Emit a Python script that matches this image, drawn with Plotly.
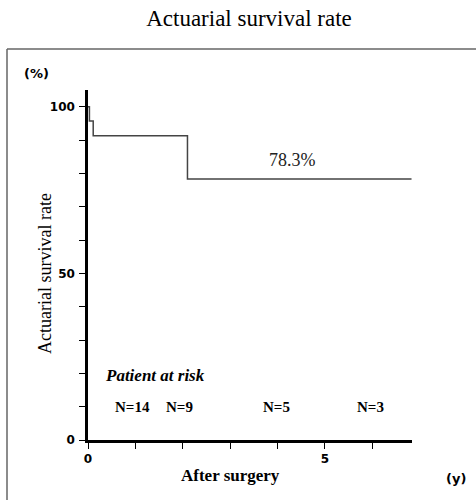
import plotly.graph_objects as go

# Data
step_years = [0, 0.03, 0.11, 2.1, 6.83]
survival_pct = [100, 95.7, 91.3, 78.3, 78.3]
final_label = "78.3%"
risk_years = [0.93, 1.94, 3.97, 5.97]
risk_counts = [14, 9, 5, 3]
y_tickvals = list(range(0, 101, 10))
y_ticktext = ["0", "", "", "", "", "50", "", "", "", "", "100"]
x_tickvals = [0, 1, 2, 3, 4, 5, 6]
x_ticktext = ["0", "", "", "", "", "5", ""]

W, H = 476, 500
L, R, T, B = 88, 64, 90, 60
pw, ph = W - L - R, H - T - B

def px(x):
    return (x - L) / pw

def py(y):
    return 1 - (y - T) / ph

fig = go.Figure()
fig.add_trace(go.Scatter(x=step_years, y=survival_pct, mode="lines",
                         line=dict(shape="hv", color="#444444", width=1.5),
                         hoverinfo="skip", showlegend=False))

tickfont = dict(family="DejaVu Sans", size=12, color="black", weight="bold")
fig.update_xaxes(range=[0, 6.84], showline=True, linewidth=3, linecolor="black",
                 ticks="outside", ticklen=6, tickwidth=1, tickcolor="black",
                 tickvals=x_tickvals, ticktext=x_ticktext, tickfont=tickfont,
                 showgrid=False, zeroline=False)
fig.update_yaxes(range=[0, 105], showline=True, linewidth=2.5, linecolor="black",
                 ticks="outside", ticklen=6, tickwidth=1, tickcolor="black",
                 tickvals=y_tickvals, ticktext=y_ticktext, tickfont=tickfont,
                 ticklabelstandoff=2,
                 showgrid=False, zeroline=False)

serif = "Liberation Serif"

def note(x, y, text, size, family=serif, xref="paper", yref="paper", **kw):
    d = dict(x=x, y=y, xref=xref, yref=yref, text=text, showarrow=False,
             xanchor=kw.pop("xanchor", "center"), yanchor="middle",
             font=dict(family=family, size=size, color=kw.pop("color", "black")))
    d.update(kw)
    return d

ann = [
    note(px(36), py(73), "<b>(%)</b>", 13, family="DejaVu Sans"),
    note(px(456), py(478), "<b>(y)</b>", 13, family="DejaVu Sans"),
    note(px(230), py(476), "<b>After surgery</b>", 17),
    note(px(45), py(274), "Actuarial survival rate", 18, textangle=-90),
    note(4.31, 84, final_label, 18, xref="x", yref="y", color="#222222"),
    note(px(103), py(375), "<b><i>Patient at risk</i></b>", 17, xanchor="left"),
]
for xv, n in zip(risk_years, risk_counts):
    ann.append(note(xv, 10, f"<b>N={n}</b>", 15, xref="x", yref="y"))

shapes = [
    dict(type="line", xref="paper", yref="paper", x0=px(7), x1=px(490), y0=py(49), y1=py(49),
         line=dict(color="#666666", width=1.5)),
    dict(type="line", xref="paper", yref="paper", x0=px(7), x1=px(7), y0=py(49), y1=py(510),
         line=dict(color="#666666", width=1.5)),
]

fig.update_layout(
    width=W, height=H,
    margin=dict(l=L, r=R, t=T, b=B),
    paper_bgcolor="white", plot_bgcolor="white",
    title=dict(text="Actuarial survival rate", x=249 / W, xref="container", xanchor="center",
               y=1 - 18 / H, yref="container", yanchor="middle",
               font=dict(family=serif, size=23, color="black")),
    annotations=ann, shapes=shapes, showlegend=False,
)

fig.write_html("out.html", config={"displayModeBar": False},
               post_script="document.body.style.margin='0';document.body.style.overflow='hidden';")
